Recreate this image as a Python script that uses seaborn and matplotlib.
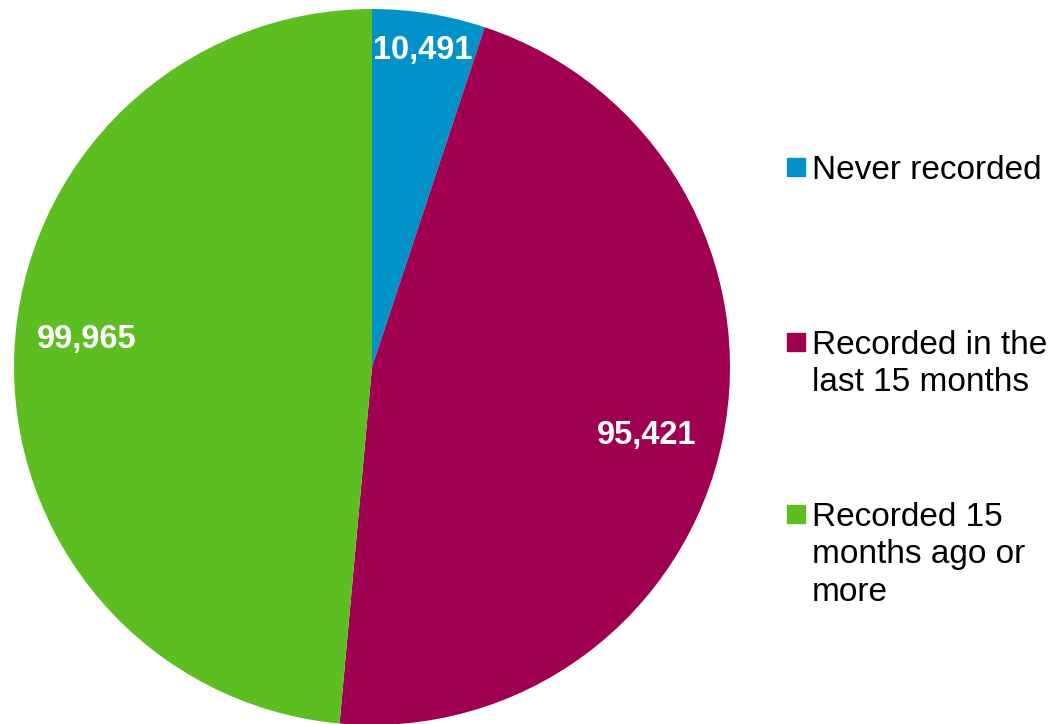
import numpy as np
import matplotlib
matplotlib.use("Agg")
import matplotlib.pyplot as plt
import seaborn as sns

# data
categories = ["Never recorded", "Recorded in the\nlast 15 months", "Recorded 15\nmonths ago or\nmore"]
counts = [10491, 95421, 99965]
colors = ["#0092C8", "#A00050", "#5DBE22"]

sns.set_theme(style="white")
plt.rcParams["font.family"] = ["Liberation Sans", "DejaVu Sans"]

fig = plt.figure(figsize=(10.54, 7.24), dpi=100)
ax = fig.add_axes([14 / 1054, -1 / 724, 716 / 1054, 716 / 724])

wedges, _ = ax.pie(counts, colors=colors, startangle=90, counterclock=False,
                   radius=1, wedgeprops=dict(linewidth=0))
ax.set_xlim(-1, 1)
ax.set_ylim(-1, 1)
ax.set_aspect("equal")
ax.axis("off")

# value labels inside the slices (radius, angle nudge in degrees)
label_r = [0.895, 0.79, 0.80]
label_nudge = [0, -2.3, -3.0]
for w, n, r, d in zip(wedges, counts, label_r, label_nudge):
    mid = np.deg2rad((w.theta1 + w.theta2) / 2 + d)
    ax.text(r * np.cos(mid), r * np.sin(mid), f"{n:,}", color="white",
            fontsize=23.5, fontweight="bold", ha="center", va="center")

# legend on the right, marker aligned to first line
first_line_y = [167, 342, 514]
for c, lab, y in zip(colors, categories, first_line_y):
    fig.patches.append(plt.Rectangle((787 / 1054, 1 - (y + 9) / 724), 18 / 1054, 18 / 724,
                                     transform=fig.transFigure, color=c, figure=fig))
    fig.text(812 / 1054, 1 - (y - 12) / 724, lab, fontsize=24, color="black",
             ha="left", va="top", linespacing=1.27)

fig.savefig("out.png", dpi=100)
